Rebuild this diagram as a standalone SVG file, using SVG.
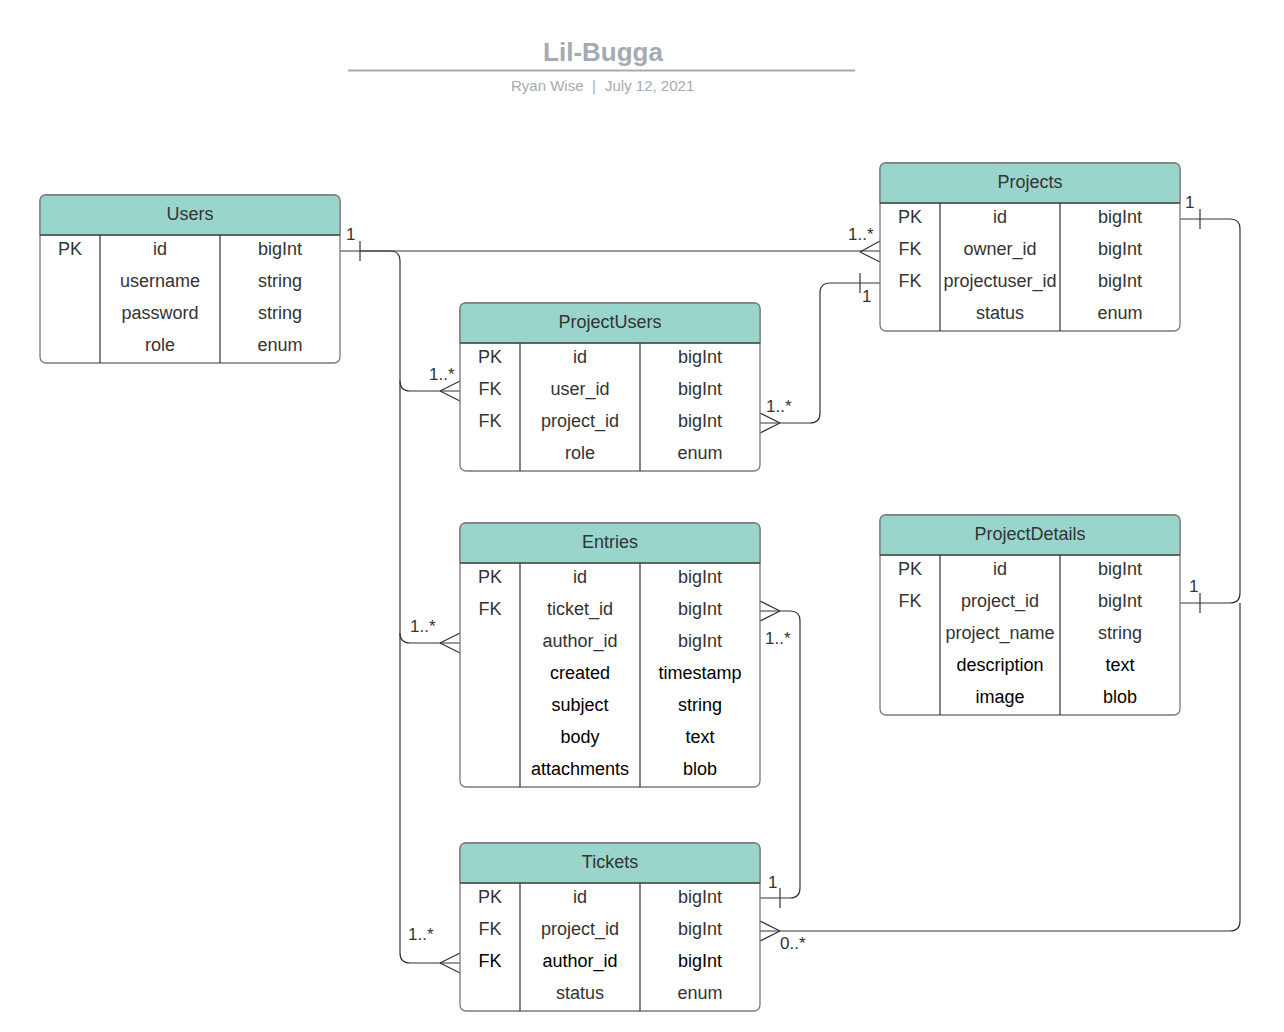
<svg xmlns="http://www.w3.org/2000/svg" width="1284" height="1032" viewBox="0 0 1284 1032">
<style>
.tbl{fill:#fff;stroke:#7a7a7a;stroke-width:1.3}
.hdr{fill:#99d5ca;stroke:#7a7a7a;stroke-width:1.3}
.div{stroke:#333;stroke-width:1.2;fill:none}
.t{font-family:"Liberation Sans",Arial,sans-serif;font-size:18px;fill:#333;text-anchor:middle}
.k{fill:#000}
.c{fill:none;stroke:#333;stroke-width:1.2}
.l{font-family:"Liberation Sans",Arial,sans-serif;font-size:17px;fill:#333}
.s{font-family:"Liberation Sans",Arial,sans-serif;font-size:15px;fill:#a6aab3}
</style>
<rect width="1284" height="1032" fill="#fff"/>
<g id="title">
<text x="603" y="61" font-family="Liberation Sans,Arial,sans-serif" font-size="26" font-weight="bold" fill="#a6aab3" text-anchor="middle">Lil-Bugga</text>
<line x1="348" y1="70.5" x2="855" y2="70.5" stroke="#a6aab3" stroke-width="2"/>
<text class="s" x="511" y="91">Ryan Wise</text>
<text class="s" x="592" y="91">|</text>
<text class="s" x="605" y="91">July 12, 2021</text>
</g>
<g id="connectors">
<path class="c" d="M340,251 H880"/>
<path class="c" d="M860,252 L880,241 M860,252 L880,262"/>
<path class="c" d="M360,241 V261"/>
<path class="c" d="M360,251 H390 Q400,251 400,261 V953 Q400,963 410,963 H460"/>
<path class="c" d="M400,381 Q400,391 410,391 H460 M400,633 Q400,643 410,643 H460"/>
<path class="c" d="M440,391 L460,381 M440,391 L460,401"/>
<path class="c" d="M440,643 L460,633 M440,643 L460,653"/>
<path class="c" d="M440,963 L460,953 M440,963 L460,973"/>
<path class="c" d="M880,283 H830 Q820,283 820,293 V413 Q820,423 810,423 H760"/>
<path class="c" d="M860,273 V293"/>
<path class="c" d="M780,423 L760,413 M780,423 L760,433"/>
<path class="c" d="M1180,219 H1230 Q1240,219 1240,229 V593 Q1240,603 1230,603 H1180"/>
<path class="c" d="M1200,209 V229 M1200,593 V613"/>
<path class="c" d="M760,931 H1230 Q1240,931 1240,921 V603"/>
<path class="c" d="M780,931 L760,921 M780,931 L760,941"/>
<path class="c" d="M760,611 H790 Q800,611 800,621 V888 Q800,898 790,898 H760"/>
<path class="c" d="M780,611 L760,601 M780,611 L760,621"/>
<path class="c" d="M780,888 V908"/>
<text class="l" x="346" y="240">1</text>
<text class="l" x="848" y="240">1..*</text>
<text class="l" x="862" y="302">1</text>
<text class="l" x="429" y="380">1..*</text>
<text class="l" x="766" y="412">1..*</text>
<text class="l" x="1185" y="208">1</text>
<text class="l" x="1189" y="592">1</text>
<text class="l" x="410" y="632">1..*</text>
<text class="l" x="765" y="644">1..*</text>
<text class="l" x="768" y="888">1</text>
<text class="l" x="408" y="940">1..*</text>
<text class="l" x="780" y="949">0..*</text>
</g>
<g id="users">
<rect class="tbl" x="40" y="195" width="300" height="168" rx="6"/>
<path class="hdr" d="M40,235 V201 Q40,195 46,195 H334 Q340,195 340,201 V235 Z"/>
<path class="div" d="M40,235 H340 M100,235 V363 M220,235 V363"/>
<text class="t" x="190" y="220">Users</text>
<text class="t" x="70" y="255">PK</text><text class="t" x="160" y="255">id</text><text class="t" x="280" y="255">bigInt</text>
<text class="t" x="160" y="287">username</text><text class="t" x="280" y="287">string</text>
<text class="t" x="160" y="319">password</text><text class="t" x="280" y="319">string</text>
<text class="t" x="160" y="351">role</text><text class="t" x="280" y="351">enum</text>
</g>
<g id="projects">
<rect class="tbl" x="880" y="163" width="300" height="168" rx="6"/>
<path class="hdr" d="M880,203 V169 Q880,163 886,163 H1174 Q1180,163 1180,169 V203 Z"/>
<path class="div" d="M880,203 H1180 M940,203 V331 M1060,203 V331"/>
<text class="t" x="1030" y="188">Projects</text>
<text class="t" x="910" y="223">PK</text><text class="t" x="1000" y="223">id</text><text class="t" x="1120" y="223">bigInt</text>
<text class="t" x="910" y="255">FK</text><text class="t" x="1000" y="255">owner_id</text><text class="t" x="1120" y="255">bigInt</text>
<text class="t" x="910" y="287">FK</text><text class="t" x="1000" y="287">projectuser_id</text><text class="t" x="1120" y="287">bigInt</text>
<text class="t" x="1000" y="319">status</text><text class="t" x="1120" y="319">enum</text>
</g>
<g id="projectusers">
<rect class="tbl" x="460" y="303" width="300" height="168" rx="6"/>
<path class="hdr" d="M460,343 V309 Q460,303 466,303 H754 Q760,303 760,309 V343 Z"/>
<path class="div" d="M460,343 H760 M520,343 V471 M640,343 V471"/>
<text class="t" x="610" y="328">ProjectUsers</text>
<text class="t" x="490" y="363">PK</text><text class="t" x="580" y="363">id</text><text class="t" x="700" y="363">bigInt</text>
<text class="t" x="490" y="395">FK</text><text class="t" x="580" y="395">user_id</text><text class="t" x="700" y="395">bigInt</text>
<text class="t" x="490" y="427">FK</text><text class="t" x="580" y="427">project_id</text><text class="t" x="700" y="427">bigInt</text>
<text class="t" x="580" y="459">role</text><text class="t" x="700" y="459">enum</text>
</g>
<g id="entries">
<rect class="tbl" x="460" y="523" width="300" height="264" rx="6"/>
<path class="hdr" d="M460,563 V529 Q460,523 466,523 H754 Q760,523 760,529 V563 Z"/>
<path class="div" d="M460,563 H760 M520,563 V787 M640,563 V787"/>
<text class="t" x="610" y="548">Entries</text>
<text class="t" x="490" y="583">PK</text><text class="t" x="580" y="583">id</text><text class="t" x="700" y="583">bigInt</text>
<text class="t" x="490" y="615">FK</text><text class="t" x="580" y="615">ticket_id</text><text class="t" x="700" y="615">bigInt</text>
<text class="t" x="580" y="647">author_id</text><text class="t" x="700" y="647">bigInt</text>
<text class="t k" x="580" y="679">created</text><text class="t k" x="700" y="679">timestamp</text>
<text class="t k" x="580" y="711">subject</text><text class="t k" x="700" y="711">string</text>
<text class="t k" x="580" y="743">body</text><text class="t k" x="700" y="743">text</text>
<text class="t k" x="580" y="775">attachments</text><text class="t k" x="700" y="775">blob</text>
</g>
<g id="projectdetails">
<rect class="tbl" x="880" y="515" width="300" height="200" rx="6"/>
<path class="hdr" d="M880,555 V521 Q880,515 886,515 H1174 Q1180,515 1180,521 V555 Z"/>
<path class="div" d="M880,555 H1180 M940,555 V715 M1060,555 V715"/>
<text class="t" x="1030" y="540">ProjectDetails</text>
<text class="t" x="910" y="575">PK</text><text class="t" x="1000" y="575">id</text><text class="t" x="1120" y="575">bigInt</text>
<text class="t" x="910" y="607">FK</text><text class="t" x="1000" y="607">project_id</text><text class="t" x="1120" y="607">bigInt</text>
<text class="t" x="1000" y="639">project_name</text><text class="t" x="1120" y="639">string</text>
<text class="t k" x="1000" y="671">description</text><text class="t k" x="1120" y="671">text</text>
<text class="t k" x="1000" y="703">image</text><text class="t k" x="1120" y="703">blob</text>
</g>
<g id="tickets">
<rect class="tbl" x="460" y="843" width="300" height="168" rx="6"/>
<path class="hdr" d="M460,883 V849 Q460,843 466,843 H754 Q760,843 760,849 V883 Z"/>
<path class="div" d="M460,883 H760 M520,883 V1011 M640,883 V1011"/>
<text class="t" x="610" y="868">Tickets</text>
<text class="t" x="490" y="903">PK</text><text class="t" x="580" y="903">id</text><text class="t" x="700" y="903">bigInt</text>
<text class="t" x="490" y="935">FK</text><text class="t" x="580" y="935">project_id</text><text class="t" x="700" y="935">bigInt</text>
<text class="t k" x="490" y="967">FK</text><text class="t k" x="580" y="967">author_id</text><text class="t k" x="700" y="967">bigInt</text>
<text class="t" x="580" y="999">status</text><text class="t" x="700" y="999">enum</text>
</g>
</svg>
